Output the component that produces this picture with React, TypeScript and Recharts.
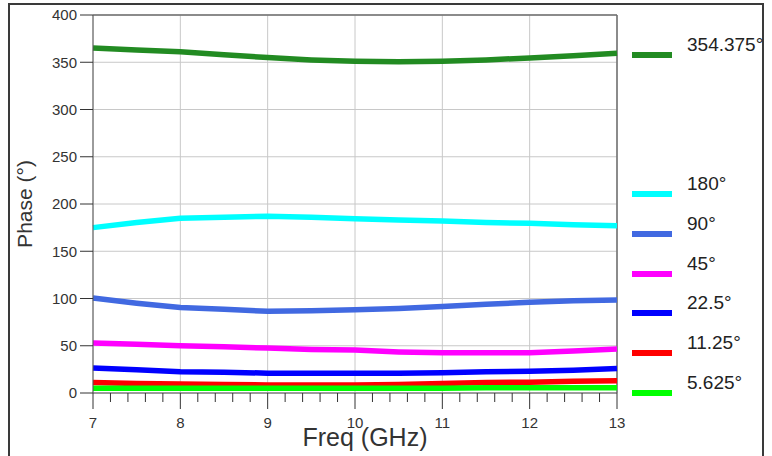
import { LineChart, Line, XAxis, YAxis, CartesianGrid, ReferenceLine } from 'recharts'

const freq = [7, 7.5, 8, 8.5, 9, 9.5, 10, 10.5, 11, 11.5, 12, 12.5, 13]

const phase354 = [365, 363, 361, 358, 355, 352.5, 351, 350.5, 351, 352.5, 354.5, 357, 359.5]
const phase180 = [175, 180.5, 185, 186, 187, 186, 184.5, 183, 182, 180.5, 179.5, 178, 177]
const phase90 = [100.5, 95, 90.5, 88.5, 86.5, 87, 88, 89.5, 91.5, 94, 96, 97.5, 98.5]
const phase45 = [53, 51.5, 50, 49, 47.5, 46, 45.5, 43.5, 42.5, 42.5, 42.5, 44.5, 46.5]
const phase22 = [26.5, 24.5, 22.5, 22, 21, 21, 21, 21, 21.5, 22.5, 23, 24, 26]
const phase11 = [11, 10, 9.5, 9, 8.5, 8.5, 8.5, 9, 10, 11, 11.5, 12.5, 13]
const phase5 = [5, 5, 5, 5, 5, 5, 5, 5, 5, 5.5, 5.5, 5.5, 5.5]

const yTicks = [0, 50, 100, 150, 200, 250, 300, 350, 400]
const xMajor = [7, 8, 9, 10, 11, 12, 13]
const xTicks = [
  7, 7.2, 7.4, 7.6, 7.8, 8, 8.2, 8.4, 8.6, 8.8, 9, 9.2, 9.4, 9.6, 9.8, 10,
  10.2, 10.4, 10.6, 10.8, 11, 11.2, 11.4, 11.6, 11.8, 12, 12.2, 12.4, 12.6, 12.8, 13,
]

const series = [
  { key: 'p354', name: '354.375°', color: '#228B22', values: phase354 },
  { key: 'p180', name: '180°', color: '#00FFFF', values: phase180 },
  { key: 'p90', name: '90°', color: '#4169E1', values: phase90 },
  { key: 'p45', name: '45°', color: '#FF00FF', values: phase45 },
  { key: 'p22', name: '22.5°', color: '#0000FF', values: phase22 },
  { key: 'p11', name: '11.25°', color: '#FF0000', values: phase11 },
  { key: 'p5', name: '5.625°', color: '#00FF00', values: phase5 },
]

// legend row positions (px, layout only)
const legendRows = [55, 194, 234, 274, 313, 353, 393]

const data = freq.map((f, i) => {
  const row: any = { f }
  series.forEach((s) => (row[s.key] = s.values[i]))
  return row
})

const FONT = '"Liberation Sans", Arial, sans-serif'
const TEXT = '#333'

const XTick = ({ x, y, payload }: any) => {
  const major = xMajor.includes(payload.value)
  return (
    <g>
      <line x1={x} x2={x} y1={y} y2={y + (major ? 16 : 9)} stroke="#333" strokeWidth={1} />
      {major && (
        <text x={x} y={y + 35} textAnchor="middle" fontSize={15} fill={TEXT} fontFamily={FONT}>
          {payload.value}
        </text>
      )}
    </g>
  )
}

export default function App() {
  return (
    <div style={{ position: 'fixed', left: 0, top: 0, width: 772, height: 456, background: '#fff', fontFamily: FONT }}>
      <div
        style={{
          position: 'absolute', left: 8, top: 3, width: 756, height: 460,
          border: '2px solid #3a3a3a', boxSizing: 'border-box',
        }}
      />
      <LineChart width={772} height={456} data={data} margin={{ top: 15, right: 155, bottom: 33, left: 33 }}>
        <CartesianGrid stroke="#c8c8c8" verticalValues={xMajor} horizontalValues={yTicks} />
        <XAxis
          dataKey="f"
          type="number"
          domain={[7, 13]}
          ticks={xTicks}
          interval={0}
          tick={<XTick />}
          tickLine={false}
          tickSize={0}
          tickMargin={0}
          height={30}
          axisLine={{ stroke: '#555' }}
        />
        <YAxis
          domain={[0, 400]}
          ticks={yTicks}
          interval={0}
          width={60}
          tickSize={13}
          tickMargin={3}
          tickLine={{ stroke: '#333' }}
          axisLine={{ stroke: '#555' }}
          tick={{ fontSize: 15, fill: TEXT, fontFamily: FONT }}
        />
        <ReferenceLine y={400} stroke="#6e6e6e" strokeWidth={1.5} />
        <ReferenceLine x={13} stroke="#6e6e6e" strokeWidth={1.5} />
        {series.map((s) => (
          <Line
            key={s.key}
            dataKey={s.key}
            name={s.name}
            stroke={s.color}
            strokeWidth={5.5}
            dot={false}
            type="linear"
            isAnimationActive={false}
          />
        ))}
      </LineChart>
      <svg width={772} height={456} style={{ position: 'absolute', left: 0, top: 0, pointerEvents: 'none' }}>
        <text
          transform="translate(32,204) rotate(-90)"
          textAnchor="middle"
          fontSize={21}
          fill={TEXT}
          fontFamily={FONT}
        >
          Phase (°)
        </text>
        <text x={365} y={446} textAnchor="middle" fontSize={25} fill={TEXT} fontFamily={FONT}>
          Freq (GHz)
        </text>
        {series.map((s, i) => (
          <g key={s.key}>
            <line x1={632} x2={672} y1={legendRows[i]} y2={legendRows[i]} stroke={s.color} strokeWidth={6} />
            <text x={687} y={legendRows[i] - 4} fontSize={19} fill="#222" fontFamily={FONT}>
              {s.name}
            </text>
          </g>
        ))}
      </svg>
    </div>
  )
}
